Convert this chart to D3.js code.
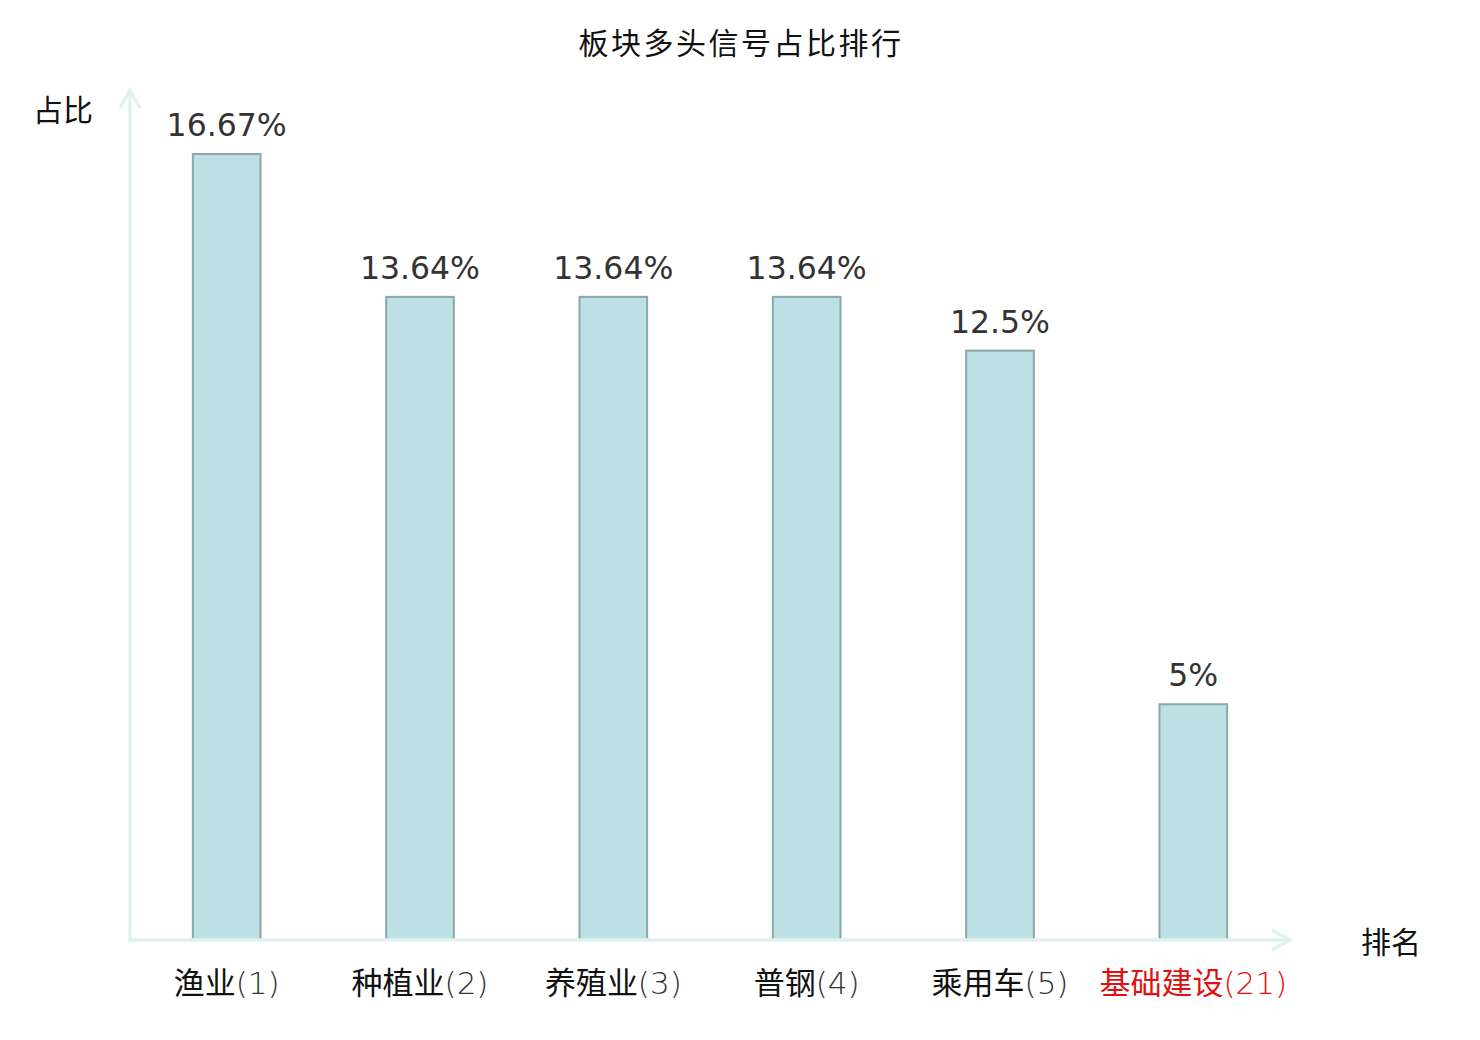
<!DOCTYPE html>
<html>
<head>
<meta charset="utf-8">
<script src="https://cdn.jsdelivr.net/npm/d3@7"></script>
<style>
  body { margin: 0; background: #fff; }
  svg { display: block; }
</style>
</head>
<body>
<div class="chart-container"></div>
<script>
// --- Data ---
const sectors = ["渔业", "种植业", "养殖业", "普钢", "乘用车", "基础建设"];
const ranks = [1, 2, 3, 4, 5, 21];
const shares = [16.67, 13.64, 13.64, 13.64, 12.5, 5];
const shareLabels = ["16.67%", "13.64%", "13.64%", "13.64%", "12.5%", "5%"];
const highlighted = ["基础建设"]; // drawn in red

const dimensions = {
    width: 1480,
    height: 1040,
    margin: { top: 154, right: 190, bottom: 100, left: 130 }
};
const axisColor = "#dff2ef";
const cjkFont = "'DejaVu Sans', 'Noto Sans CJK SC', sans-serif";

const svg = d3.select(".chart-container").append("svg")
    .attr("width", dimensions.width)
    .attr("height", dimensions.height);

const x0 = dimensions.margin.left;
const x1 = dimensions.width - dimensions.margin.right;
const yBase = dimensions.height - dimensions.margin.bottom;

const xScale = d3.scaleBand()
    .domain(sectors)
    .range([x0, x1])
    .paddingInner(0.65)
    .paddingOuter(0.325);

const yScale = d3.scaleLinear()
    .domain([0, d3.max(shares)])
    .range([yBase, dimensions.margin.top]);

// Title
svg.append("text")
    .attr("x", dimensions.width / 2 + 1)
    .attr("y", 54)
    .attr("text-anchor", "middle")
    .style("font-family", cjkFont)
    .style("font-size", "30px")
    .style("letter-spacing", "2.5px")
    .attr("fill", "#111")
    .text("板块多头信号占比排行");

// --- Bars ---
const data = sectors.map((s, i) => ({ sector: s, rank: ranks[i], value: shares[i], label: shareLabels[i] }));

svg.selectAll(".bar")
    .data(data)
    .enter()
    .append("rect")
    .attr("class", "bar")
    .attr("x", d => xScale(d.sector))
    .attr("y", d => yScale(d.value))
    .attr("width", xScale.bandwidth())
    .attr("height", d => yBase - yScale(d.value))
    .attr("fill", "#bce0e3")
    .attr("stroke", "#8ba8aa")
    .attr("stroke-width", 2);

// value labels
svg.selectAll(".value-label")
    .data(data)
    .enter()
    .append("text")
    .attr("class", "value-label")
    .attr("x", d => xScale(d.sector) + xScale.bandwidth() / 2)
    .attr("y", d => yScale(d.value) - 18)
    .attr("text-anchor", "middle")
    .style("font-family", "'DejaVu Sans', sans-serif")
    .style("font-size", "31.5px")
    .attr("fill", "#333")
    .text(d => d.label);

// --- Axes ---
const xAxis = d3.axisBottom(xScale).tickSize(0).tickPadding(0);
const xAxisGroup = svg.append("g")
    .attr("class", "x-axis")
    .attr("transform", `translate(0, ${yBase})`)
    .call(xAxis);
xAxisGroup.select(".domain").remove();

xAxisGroup.selectAll(".tick text")
    .text(null)
    .attr("y", 54)
    .attr("dy", 0)
    .style("font-family", cjkFont)
    .style("font-size", "31px")
    .attr("fill", d => highlighted.includes(d) ? "#e01010" : "#111")
    .each(function(d, i) {
        const t = d3.select(this);
        t.append("tspan").text(d);
        t.append("tspan")
            .style("font-weight", 200)
            .attr("fill", highlighted.includes(d) ? "#e01010" : "#333")
            .text(`(${ranks[i]})`);
    });

// axis lines with arrows
const arrowEnd = x1;
svg.append("line")
    .attr("x1", x0 - 2).attr("y1", yBase)
    .attr("x2", arrowEnd).attr("y2", yBase)
    .attr("stroke", axisColor).attr("stroke-width", 3.5);
svg.append("path")
    .attr("d", `M${arrowEnd - 18},${yBase - 10} L${arrowEnd},${yBase} L${arrowEnd - 18},${yBase + 10}`)
    .attr("fill", "none").attr("stroke", axisColor).attr("stroke-width", 3.5);

const arrowTop = 90;
svg.append("line")
    .attr("x1", x0).attr("y1", yBase + 2)
    .attr("x2", x0).attr("y2", arrowTop)
    .attr("stroke", axisColor).attr("stroke-width", 3.5);
svg.append("path")
    .attr("d", `M${x0 - 10},${arrowTop + 18} L${x0},${arrowTop} L${x0 + 10},${arrowTop + 18}`)
    .attr("fill", "none").attr("stroke", axisColor).attr("stroke-width", 3.5);

// axis names
svg.append("text")
    .attr("x", 33).attr("y", 121)
    .style("font-family", cjkFont)
    .style("font-size", "30px")
    .attr("fill", "#111")
    .text("占比");

svg.append("text")
    .attr("x", 1361).attr("y", 953)
    .style("font-family", cjkFont)
    .style("font-size", "30px")
    .attr("fill", "#111")
    .text("排名");
</script>
</body>
</html>
